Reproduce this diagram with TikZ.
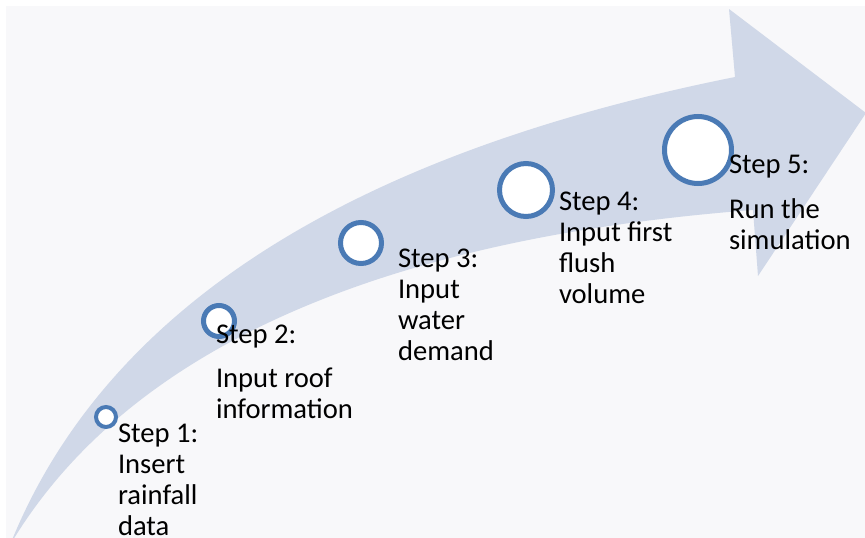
\documentclass[tikz,border=0pt]{standalone}
\usepackage{fontspec}
\setmainfont{Carlito}
\definecolor{bgcol}{HTML}{F8F8FA}
\definecolor{arrowcol}{HTML}{D0D8E8}
\definecolor{ringcol}{HTML}{4A7AB5}
\tikzset{
  stepcircle/.style={draw=ringcol, fill=white, line width=5pt},
  smallcircle/.style={draw=ringcol, fill=white, line width=4pt},
  steptext/.style={anchor=base west, inner sep=0pt, outer sep=0pt, text=black,
    font=\fontsize{28.6}{31}\selectfont}
}
\begin{document}
\begin{tikzpicture}[x=1pt,y=-1pt]
\useasboundingbox (0,0) rectangle (865,538);
\clip (0,0) rectangle (865,538);
\fill[white] (0,0) rectangle (865,538);
\fill[bgcol] (6,6) rectangle (865,538);
% curved arrow
\fill[arrowcol] (10,545) .. controls (120,270) and (420,140) .. (735,77)
  -- (729,9) -- (866,113) -- (758,276) -- (753,210)
  .. controls (360,240) and (120,360) .. (10,545) -- cycle;
% circles
\node[smallcircle, circle, minimum size=20pt, inner sep=0pt] (c1) at (106,417) {};
\node[stepcircle, circle, minimum size=31pt, inner sep=0pt] (c2) at (219,321) {};
\node[stepcircle, circle, minimum size=41pt, inner sep=0pt] (c3) at (361,243) {};
\node[stepcircle, circle, minimum size=53pt, inner sep=0pt] (c4) at (526,190) {};
\node[stepcircle, circle, minimum size=67pt, inner sep=0pt] (c5) at (698,150) {};
% texts
\node[steptext] (t1) at (118,442) {\begin{tabular}[t]{@{}l@{}}Step 1:\\Insert\\rainfall\\data\end{tabular}};
\node[steptext] (t2) at (216,343) {\begin{tabular}[t]{@{}l@{}}Step 2:\\[13pt]Input roof\\information\end{tabular}};
\node[steptext] (t3) at (398,267) {\begin{tabular}[t]{@{}l@{}}Step 3:\\Input\\water\\demand\end{tabular}};
\node[steptext] (t4) at (559,210) {\begin{tabular}[t]{@{}l@{}}Step 4:\\Input first\\flush\\volume\end{tabular}};
\node[steptext] (t5) at (729,173) {\begin{tabular}[t]{@{}l@{}}Step 5:\\[14pt]Run the\\simulation\end{tabular}};
\end{tikzpicture}
\end{document}
